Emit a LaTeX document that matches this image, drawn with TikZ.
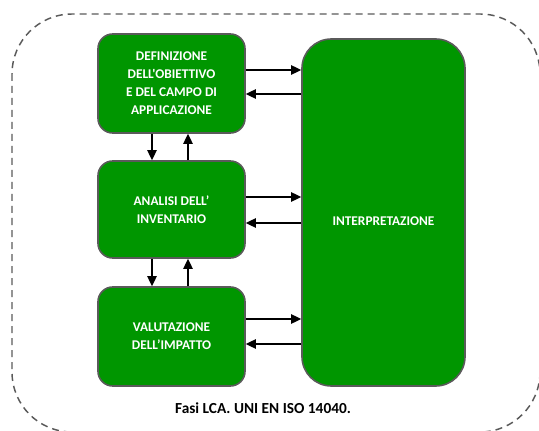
\documentclass[tikz,border=0pt]{standalone}
\usepackage{fontspec}
\setmainfont{Carlito}[Ligatures=TeXOff]
\usetikzlibrary{arrows.meta}
\definecolor{boxgreen}{RGB}{0,150,0}
\definecolor{boxborder}{RGB}{90,90,90}
\definecolor{dashgray}{RGB}{90,90,90}
\tikzset{
  phase/.style={draw=boxborder, line width=1.2pt, fill=boxgreen, rounded corners=11pt,
    minimum width=110.25pt, inner sep=0pt, align=center, text=white,
    font=\bfseries\fontsize{10}{13.5}\selectfont},
  arr/.style={line width=1.1pt, -{Triangle[length=7.5pt,width=7pt]}},
  frame/.style={draw=dashgray, line width=1.1pt, dash pattern=on 5.25pt off 3.75pt, rounded corners=45pt}
}
\begin{document}
\begin{tikzpicture}[x=0.75pt,y=-0.75pt]
\useasboundingbox (0,0) rectangle (539,431);
\clip (0,0) rectangle (539,431);
\draw[frame] (12,14) rectangle (540,432);
\node[phase, minimum height=74.25pt] (b1) at (171.5,83.5) {DEFINIZIONE\\DELL'OBIETTIVO\\E DEL CAMPO DI\\APPLICAZIONE};
\node[phase, minimum height=72.75pt] (b2) at (171.5,209.5) {ANALISI DELL’\\INVENTARIO};
\node[phase, minimum height=74.25pt] (b3) at (171.5,336.5) {VALUTAZIONE\\DELL’IMPATTO};
\node[phase, rounded corners=22pt, minimum width=122.25pt, minimum height=260.25pt,
  label={[text=white, font=\bfseries\fontsize{10}{13.5}\selectfont, yshift=-6.4pt]center:INTERPRETAZIONE}] (interp) at (383.5,212.5) {};
% horizontal connectors
\draw[arr] (b1.east |- 0,70) -- (interp.west |- 0,70);
\draw[arr] (interp.west |- 0,94) -- (b1.east |- 0,94);
\draw[arr] (b2.east |- 0,197) -- (interp.west |- 0,197);
\draw[arr] (interp.west |- 0,223) -- (b2.east |- 0,223);
\draw[arr] (b3.east |- 0,319) -- (interp.west |- 0,319);
\draw[arr] (interp.west |- 0,344) -- (b3.east |- 0,344);
% vertical connectors
\draw[arr] (b1.south -| 152,0) -- (b2.north -| 152,0);
\draw[arr] (b2.north -| 188,0) -- (b1.south -| 188,0);
\draw[arr] (b2.south -| 152,0) -- (b3.north -| 152,0);
\draw[arr] (b3.north -| 188,0) -- (b2.south -| 188,0);
\node[font=\bfseries\fontsize{11.5}{14}\selectfont] (caption) at (263,408) {Fasi LCA. UNI EN ISO 14040.};
\end{tikzpicture}
\end{document}
